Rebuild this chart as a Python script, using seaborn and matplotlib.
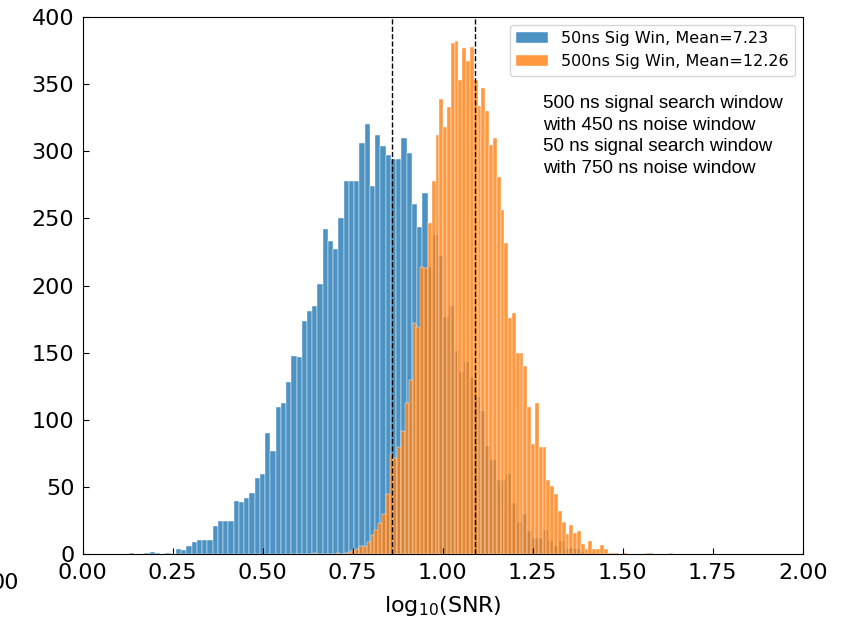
import numpy as np
import pandas as pd
import seaborn as sns
import matplotlib
matplotlib.use("Agg")
import matplotlib.pyplot as plt

# histogram counts (100 bins each, range = data min..max)
blue_range = (0.128, 1.584)
blue_counts = [
    1, 0, 0, 1, 2, 1, 0, 1, 0, 4,
    3, 6, 9, 11, 11, 11, 21, 25, 25, 25,
    40, 39, 42, 46, 57, 60, 90, 77, 110, 113,
    128, 148, 147, 174, 181, 185, 201, 242, 233, 227,
    250, 278, 278, 278, 306, 320, 274, 312, 304, 297,
    294, 294, 310, 299, 261, 244, 269, 214, 238, 222,
    177, 185, 151, 136, 143, 132, 117, 107, 81, 70,
    55, 55, 60, 38, 24, 30, 17, 12, 12, 18,
    10, 6, 10, 4, 5, 4, 2, 1, 1, 0,
    0, 0, 0, 0, 0, 0, 0, 0, 0, 1,
]

orange_range = (0.5765, 1.6385)
orange_counts = [
    0, 0, 0, 0, 0, 0, 1, 0, 0, 0,
    0, 0, 1, 0, 1, 2, 3, 4, 6, 6,
    9, 14, 18, 23, 30, 45, 75, 72, 80, 92,
    113, 130, 172, 169, 214, 213, 247, 278, 312, 339,
    318, 333, 381, 382, 353, 377, 367, 378, 353, 334,
    347, 330, 305, 310, 281, 256, 232, 176, 180, 150,
    150, 140, 110, 82, 113, 80, 80, 55, 51, 45,
    32, 24, 15, 22, 16, 17, 8, 4, 10, 4,
    4, 7, 4, 1, 1, 1, 0, 1, 0, 0,
    0, 0, 0, 1, 0, 0, 0, 0, 0, 1,
]

labels = ["50ns Sig Win, Mean=7.23", "500ns Sig Win, Mean=12.26"]
means = [7.23, 12.26]
note = ("500 ns signal search window\nwith 450 ns noise window\n"
        "50 ns signal search window\nwith 750 ns noise window")


def centers(rng, n):
    e = np.linspace(rng[0], rng[1], n + 1)
    return (e[:-1] + e[1:]) / 2


fig = plt.figure(figsize=(8.41, 6.21), dpi=100)
ax = fig.add_axes([0.0983, 0.1074, 0.8562, 0.8652])

sns.histplot(x=centers(blue_range, len(blue_counts)), weights=blue_counts,
             bins=len(blue_counts), binrange=blue_range, color="#1f77b4",
             alpha=0.8, edgecolor="white", linewidth=0.3, ax=ax, label=labels[0])
sns.histplot(x=centers(orange_range, len(orange_counts)), weights=orange_counts,
             bins=len(orange_counts), binrange=orange_range, color="#ff7f0e",
             alpha=0.8, edgecolor="white", linewidth=0.3, ax=ax, label=labels[1])

for m in means:
    ax.axvline(np.log10(m), color="black", ls="--", lw=1)

ax.set_xlim(0, 2)
ax.set_ylim(0, 400)
ax.set_xticks(np.arange(0, 2.01, 0.25))
ax.set_yticks(np.arange(0, 401, 50))
ax.tick_params(direction="in", labelsize=16, length=4, pad=6)
ax.set_xlabel("log$_{10}$(SNR)", fontsize=16, labelpad=8)
ax.set_ylabel("")
ax.legend(loc="upper right", fontsize=11.5)
ax.text(1.279, 342, note, fontsize=13.5, family=["Liberation Sans", "DejaVu Sans"],
        va="top", ha="left", linespacing=1.36)

fig.text(0.022, 1 - 583 / 621, "00", ha="right", va="center", fontsize=16)

plt.savefig("out.png", dpi=100)
